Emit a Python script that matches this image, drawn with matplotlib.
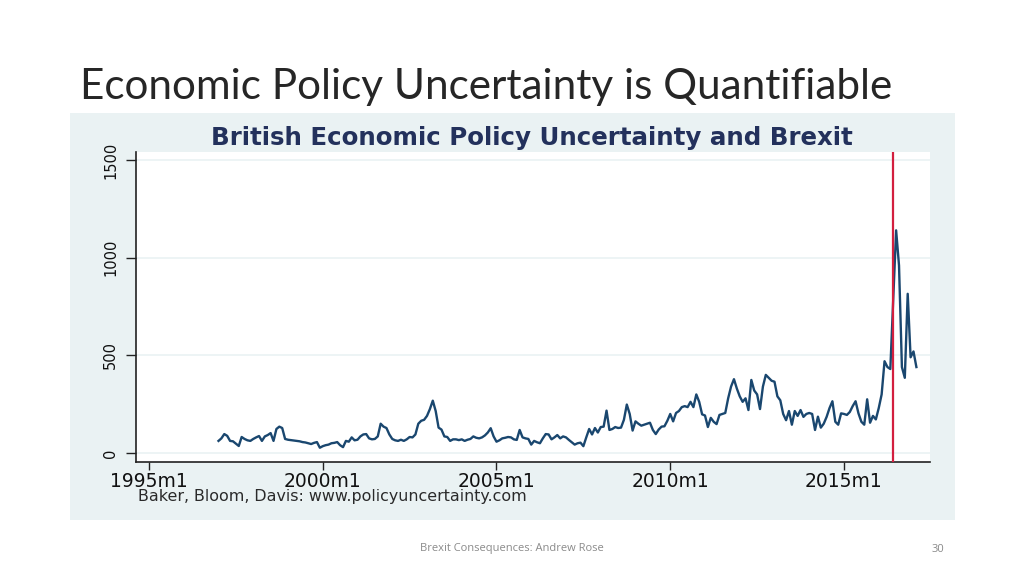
import numpy as np
import pandas as pd
import matplotlib
matplotlib.use("Agg")
import matplotlib.pyplot as plt
from matplotlib.patches import Rectangle

# ---------------- data ----------------
slide_title = "Economic Policy Uncertainty is Quantifiable"
chart_title = "British Economic Policy Uncertainty and Brexit"
source_note = "Baker, Bloom, Davis: www.policyuncertainty.com"
footer_text = "Brexit Consequences: Andrew Rose"
page_number = "30"

series_start = "1997-01"
epu = [
    # 1997
    62, 75, 97, 88, 62, 60, 48, 36, 82, 72, 65, 62,
    # 1998
    72, 80, 87, 62, 85, 92, 102, 62, 123, 135, 128, 72,
    # 1999
    68, 66, 64, 62, 60, 56, 54, 50, 46, 52, 56, 27,
    # 2000
    35, 40, 43, 50, 52, 56, 40, 30, 62, 58, 80, 65,
    # 2001
    68, 85, 95, 97, 75, 70, 72, 85, 150, 135, 128, 95,
    # 2002
    72, 65, 62, 68, 62, 70, 82, 80, 95, 150, 165, 170,
    # 2003
    190, 225, 268, 215, 130, 120, 85, 82, 62, 70, 70, 66,
    # 2004
    70, 62, 68, 72, 85, 78, 75, 80, 90, 105, 127, 85,
    # 2005
    58, 65, 75, 78, 82, 80, 70, 67, 118, 80, 75, 72,
    # 2006
    43, 62, 55, 50, 75, 97, 95, 70, 80, 92, 75, 85,
    # 2007
    80, 67, 55, 43, 50, 53, 35, 80, 123, 95, 128, 105,
    # 2008
    133, 135, 217, 118, 123, 133, 128, 130, 170, 248, 200, 115,
    # 2009
    162, 150, 140, 145, 150, 155, 118, 97, 120, 135, 137, 165,
    # 2010
    200, 162, 205, 215, 235, 240, 235, 262, 235, 300, 262, 198,
    # 2011
    192, 133, 180, 160, 148, 195, 200, 205, 280, 340, 378, 330,
    # 2012
    290, 262, 280, 220, 374, 320, 300, 225, 340, 400, 385, 370,
    # 2013
    365, 290, 270, 200, 168, 215, 145, 215, 190, 220, 185, 200,
    # 2014
    205, 200, 118, 186, 130, 150, 185, 230, 265, 160, 145, 203,
    # 2015
    200, 195, 210, 240, 265, 203, 160, 145, 275, 155, 190, 172,
    # 2016
    230, 300, 470, 440, 430, 790, 1140, 960, 440, 385, 815, 490,
    # 2017
    520, 440,
]
brexit_vote = "2016-06"
y_ticks = [0, 500, 1000, 1500]
x_tick_years = [1995, 2000, 2005, 2010, 2015]
x_tick_labels = ["1995m1", "2000m1", "2005m1", "2010m1", "2015m1"]

# ---------------- figure ----------------
W, H = 1024, 576
fig = plt.figure(figsize=(W / 100, H / 100), dpi=100)
fig.patch.set_facecolor("white")


def fx(px):
    return px / W


def fy(py):
    return 1 - py / H


# chart image background
bg = "#EAF2F3"
fig.patches.append(Rectangle((fx(70), fy(520)), fx(955) - fx(70), fy(113) - fy(520),
                             transform=fig.transFigure, facecolor=bg, edgecolor="none", zorder=-5))

ax = fig.add_axes([fx(136), fy(462), fx(930) - fx(136), fy(152) - fy(462)])
ax.set_zorder(2)
ax.set_facecolor("white")

dates = pd.period_range(series_start, periods=len(epu), freq="M")
xdec = dates.year + (dates.month - 1) / 12.0
ax.plot(xdec, epu, color="#1A476F", lw=1.7, solid_joinstyle="round", zorder=3)

bv = pd.Period(brexit_vote, freq="M")
ax.axvline(bv.year + (bv.month - 1) / 12.0, color="#D31F3F", lw=1.6, zorder=4)

ax.set_xlim(1994.626, 2017.475)
ax.set_ylim(-46, 1541)

for v in y_ticks:
    ax.axhline(v, color="#EAF2F3", lw=1.2, zorder=1)

ax.set_yticks(y_ticks)
ax.set_yticklabels([str(v) for v in y_ticks], rotation=90, va="center",
                   fontsize=10.5, family="DejaVu Sans", color="#111111")
ax.set_xticks(x_tick_years)
ax.set_xticklabels(x_tick_labels, fontsize=13.5, family="DejaVu Sans", color="#111111")
ax.tick_params(axis="y", length=7, width=1, color="#222222", pad=6)
ax.tick_params(axis="x", length=6, width=1, color="#222222", pad=1)

for s in ["top", "right"]:
    ax.spines[s].set_visible(False)
for s in ["left", "bottom"]:
    ax.spines[s].set_color("#222222")
    ax.spines[s].set_linewidth(1.2)

renderer = fig.canvas.get_renderer()


def fit(t, width_px):
    bb = t.get_window_extent(renderer)
    t.set_fontsize(t.get_fontsize() * width_px / bb.width)


t1 = fig.text(fx(80), fy(87), slide_title, ha="left", va="center",
              family=["Lato", "Open Sans", "DejaVu Sans"], fontweight="normal",
              fontsize=28, color="#262626")
fit(t1, 813)

t2 = fig.text(fx(532), fy(138), chart_title, ha="center", va="center",
              family="DejaVu Sans", fontweight="bold", fontsize=14, color="#23315C")
fit(t2, 645)

t3 = fig.text(fx(138), fy(497), source_note, ha="left", va="center",
              family="DejaVu Sans", fontsize=10, color="#2A2A2A")
fit(t3, 387)

fig.text(fx(512), fy(549), footer_text, ha="center", va="center",
         family=["Open Sans", "DejaVu Sans"], fontsize=8, color="#8A8A8A")
fig.text(fx(938), fy(549), page_number, ha="center", va="center",
         family=["Open Sans", "DejaVu Sans"], fontsize=8, color="#8A8A8A")

fig.savefig("out.png", dpi=100)
